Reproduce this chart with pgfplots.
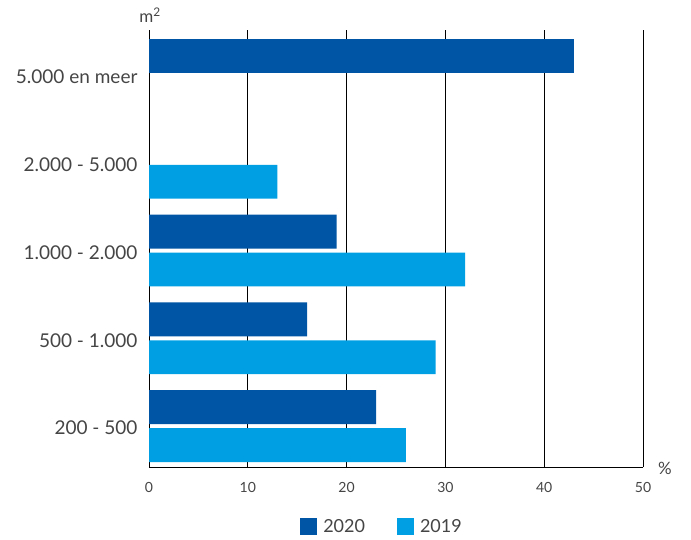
\documentclass[border=0pt]{standalone}
\usepackage{pgfplots}
\pgfplotsset{compat=1.18}
\usepackage{fontspec}
\setmainfont{Lato}
\definecolor{darkb}{HTML}{0055A4}
\definecolor{lightb}{HTML}{009FE3}
\definecolor{txt}{HTML}{454545}
\begin{document}
\begin{tikzpicture}[x=1pt,y=1pt]
\path[use as bounding box] (0,0) rectangle (691,539);
\begin{axis}[
  at={(149pt,72pt)}, anchor=south west,
  scale only axis, width=494pt, height=437pt,
  xmin=0, xmax=50, ymin=-0.467, ymax=4.513,
  xbar, bar width=0.387,
  axis lines=left,
  axis line style={-, black, line width=0.8pt},
  xtick={0,10,20,30,40,50},
  xmajorgrids, grid style={black, line width=0.7pt},
  ytick={0,1,2,3,4},
  yticklabels={200 - 500, 500 - 1.000, 1.000 - 2.000, 2.000 - 5.000, 5.000 en meer},
  major tick length=0pt,
  /pgf/number format/assume math mode=true,
  xticklabel style={font=\fontsize{14}{16}\selectfont, text=txt, yshift=-12pt},
  yticklabel style={font=\fontsize{19}{22}\selectfont, text=txt, xshift=-8pt, yshift=-2pt},
  legend columns=2,
  legend style={draw=none, at={(0.4717,-0.137)}, anchor=center,
    font=\fontsize{18}{20}\selectfont, text=txt,
    /tikz/every even column/.append style={column sep=30pt}},
  legend image code/.code={\fill[#1] (0pt,-8.5pt) rectangle (17pt,8.5pt);},
]
\addplot[fill=darkb, draw=none, bar shift=0.2165] coordinates {(23,0) (16,1) (19,2) (43,4)};
\addlegendentry{\hspace{4pt}2020}
\addplot[fill=lightb, draw=none, bar shift=-0.2165] coordinates {(26,0) (29,1) (32,2) (13,3)};
\addlegendentry{\hspace{4pt}2019}
\end{axis}
\node[text=txt, font=\fontsize{17}{19}\selectfont] at (150,524) {m\textsuperscript{2}};
\node[text=txt, font=\fontsize{17}{19}\selectfont] at (665,71) {\%};
\end{tikzpicture}
\end{document}
